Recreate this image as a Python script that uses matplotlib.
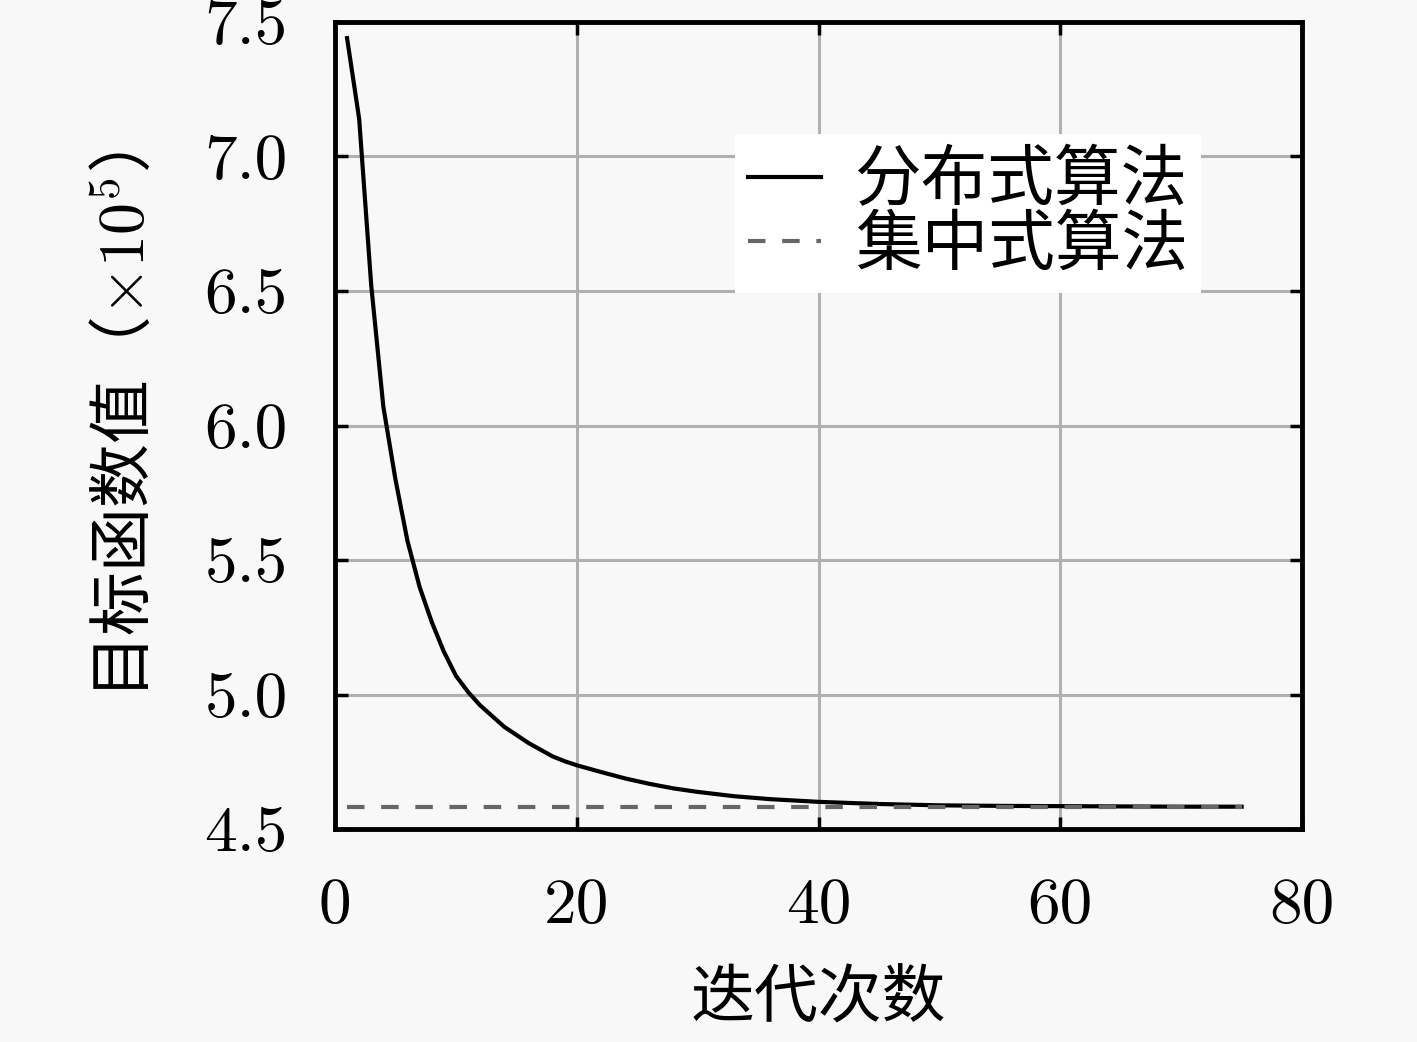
import matplotlib
matplotlib.use("Agg")
import matplotlib.pyplot as plt

# iterations and objective values (x 1e5)
iters_dist = [1, 2, 3, 4, 5, 6, 7, 8, 9, 10, 11, 12, 13, 14, 15, 16, 17, 18, 19, 20,
              22, 24, 26, 28, 30, 33, 36, 40, 45, 50, 55, 60, 65, 70, 75]
obj_dist = [7.44, 7.14, 6.52, 6.07, 5.80, 5.57, 5.40, 5.27, 5.16, 5.07, 5.01, 4.96,
            4.92, 4.88, 4.85, 4.82, 4.795, 4.77, 4.752, 4.737, 4.712, 4.688, 4.668,
            4.651, 4.638, 4.622, 4.611, 4.601, 4.593, 4.588, 4.586, 4.585, 4.584,
            4.583, 4.583]
iters_cent = [1, 75]
obj_cent = [4.581, 4.581]

xticks = [0, 20, 40, 60, 80]
xtick_labels = ['0', '20', '40', '60', '80']
yticks = [4.5, 5.0, 5.5, 6.0, 6.5, 7.0, 7.5]
ytick_labels = ['4.5', '5.0', '5.5', '6.0', '6.5', '7.0', '7.5']

plt.rcParams['font.family'] = ['cmr10', 'Noto Sans CJK SC', 'DejaVu Sans']
plt.rcParams['mathtext.fontset'] = 'cm'
plt.rcParams['axes.unicode_minus'] = False

bg = '#f8f8f8'
fig = plt.figure(figsize=(14.17, 10.42), dpi=100, facecolor=bg)
ax = fig.add_axes([0.2364, 0.2044, 0.6825, 0.7745], facecolor=bg)

ax.plot(iters_dist, obj_dist, color='black', lw=3, label='分布式算法', zorder=3)
ax.plot(iters_cent, obj_cent, color='#666666', lw=3, dashes=(4.2, 4.0),
        label='集中式算法', zorder=4)

ax.set_xlim(0, 80)
ax.set_ylim(4.5, 7.5)
ax.set_xticks(xticks)
ax.set_xticklabels(xtick_labels)
ax.set_yticks(yticks)
ax.set_yticklabels(ytick_labels)
ax.grid(True, color='#b0b0b0', lw=2.2)
ax.set_axisbelow(True)

ax.tick_params(direction='in', length=9, width=2.5, top=True, right=True,
               labelsize=47, colors='black')
ax.tick_params(axis='x', pad=35)
ax.tick_params(axis='y', pad=34)
for s in ax.spines.values():
    s.set_linewidth(3.5)

ax.set_xlabel('迭代次数', fontsize=46, fontfamily='Noto Sans CJK SC', labelpad=22)
ax.set_ylabel('目标函数值（$\\times10^5$）', fontsize=46,
              fontfamily='Noto Sans CJK SC', labelpad=32)

leg = ax.legend(loc='upper right', bbox_to_anchor=(0.93, 0.902),
                prop={'family': 'Noto Sans CJK SC', 'size': 48},
                frameon=True, fancybox=False, framealpha=1, edgecolor='none',
                facecolor='white', handlelength=1.1, handletextpad=0.5,
                labelspacing=-0.05, borderpad=0.2)

fig.savefig('out.png', dpi=100, facecolor=bg)
